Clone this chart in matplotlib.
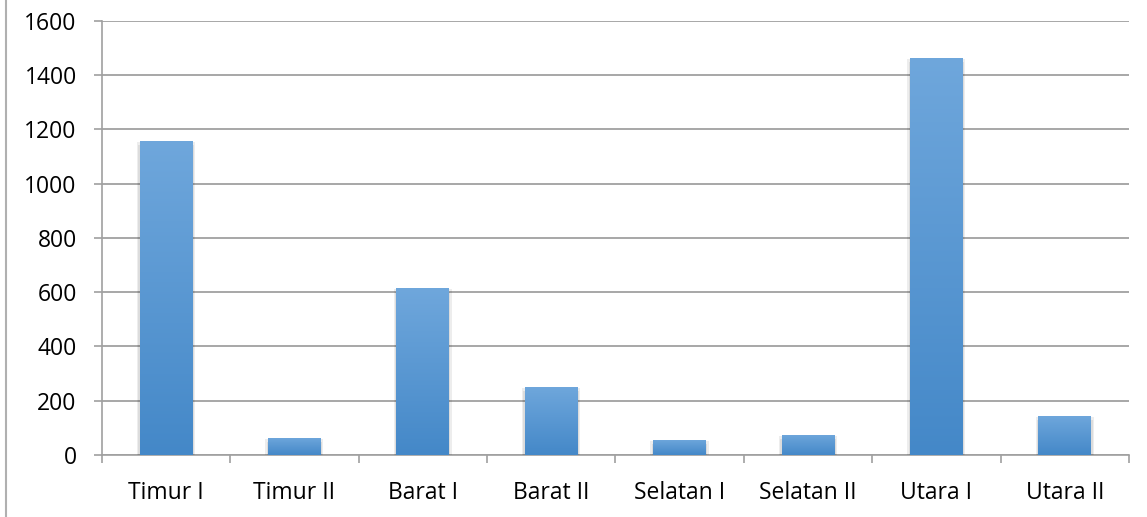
import numpy as np
import matplotlib
matplotlib.use("Agg")
import matplotlib.pyplot as plt
import matplotlib.patheffects as pe
from matplotlib.lines import Line2D

categories = ["Timur I", "Timur II", "Barat I", "Barat II",
              "Selatan I", "Selatan II", "Utara I", "Utara II"]
values = [1157, 63, 615, 251, 56, 74, 1463, 144]

plt.rcParams['font.family'] = ['Open Sans', 'DejaVu Sans']

fig = plt.figure(figsize=(11.47, 5.17), dpi=100)
ax = fig.add_axes([0.0887, 0.1199, 0.8956, 0.84])

x = np.arange(len(categories))
width = 0.41
shadow = [pe.SimplePatchShadow(offset=o, shadow_rgbFace='black', alpha=0.07)
          for o in [(0, -2), (2, -1), (-2, -1), (1, -3), (-1, -3)]]
bars = ax.bar(x, values, width, color='#5a9ad6', zorder=3,
              path_effects=shadow + [pe.Normal()])

# vertical gradient on each bar
grad = np.linspace(0, 1, 256).reshape(-1, 1)
cmap = matplotlib.colors.LinearSegmentedColormap.from_list('g', ['#4488c8', '#6fa7dc'])
for b in bars:
    x0, y0 = b.get_x(), b.get_y()
    w, h = b.get_width(), b.get_height()
    im = ax.imshow(grad, extent=[x0, x0 + w, y0, y0 + h], origin='lower',
                   cmap=cmap, aspect='auto', zorder=4)
    im.set_clip_path(b)

ax.set_xlim(-0.5, len(categories) - 0.5)
ax.set_ylim(0, 1600)
ax.set_yticks(range(0, 1601, 200))
ax.set_xticks(x)
ax.set_xticklabels(categories)
ax.set_xticks(np.arange(-0.5, len(categories), 1), minor=True)
ax.tick_params(axis='x', which='major', length=0, pad=19, labelsize=16.5)
ax.tick_params(axis='x', which='minor', length=6, width=1.2, color='#a0a0a0')
ax.tick_params(axis='y', length=6, width=1.2, color='#a0a0a0', pad=12, labelsize=16.5)

ax.grid(axis='y', color='#a0a0a0', linewidth=1.3, zorder=0)
for s in ['top', 'right']:
    ax.spines[s].set_visible(False)
ax.spines['left'].set_color('#a0a0a0')
ax.spines['bottom'].set_color('#a0a0a0')
ax.spines['left'].set_linewidth(1.2)
ax.spines['bottom'].set_linewidth(1.2)

# outer chart border on the left
fig.add_artist(Line2D([6 / 1147, 6 / 1147], [0, 1], color='#b0b0b0', linewidth=1.5))

fig.savefig('out.png', dpi=100)
